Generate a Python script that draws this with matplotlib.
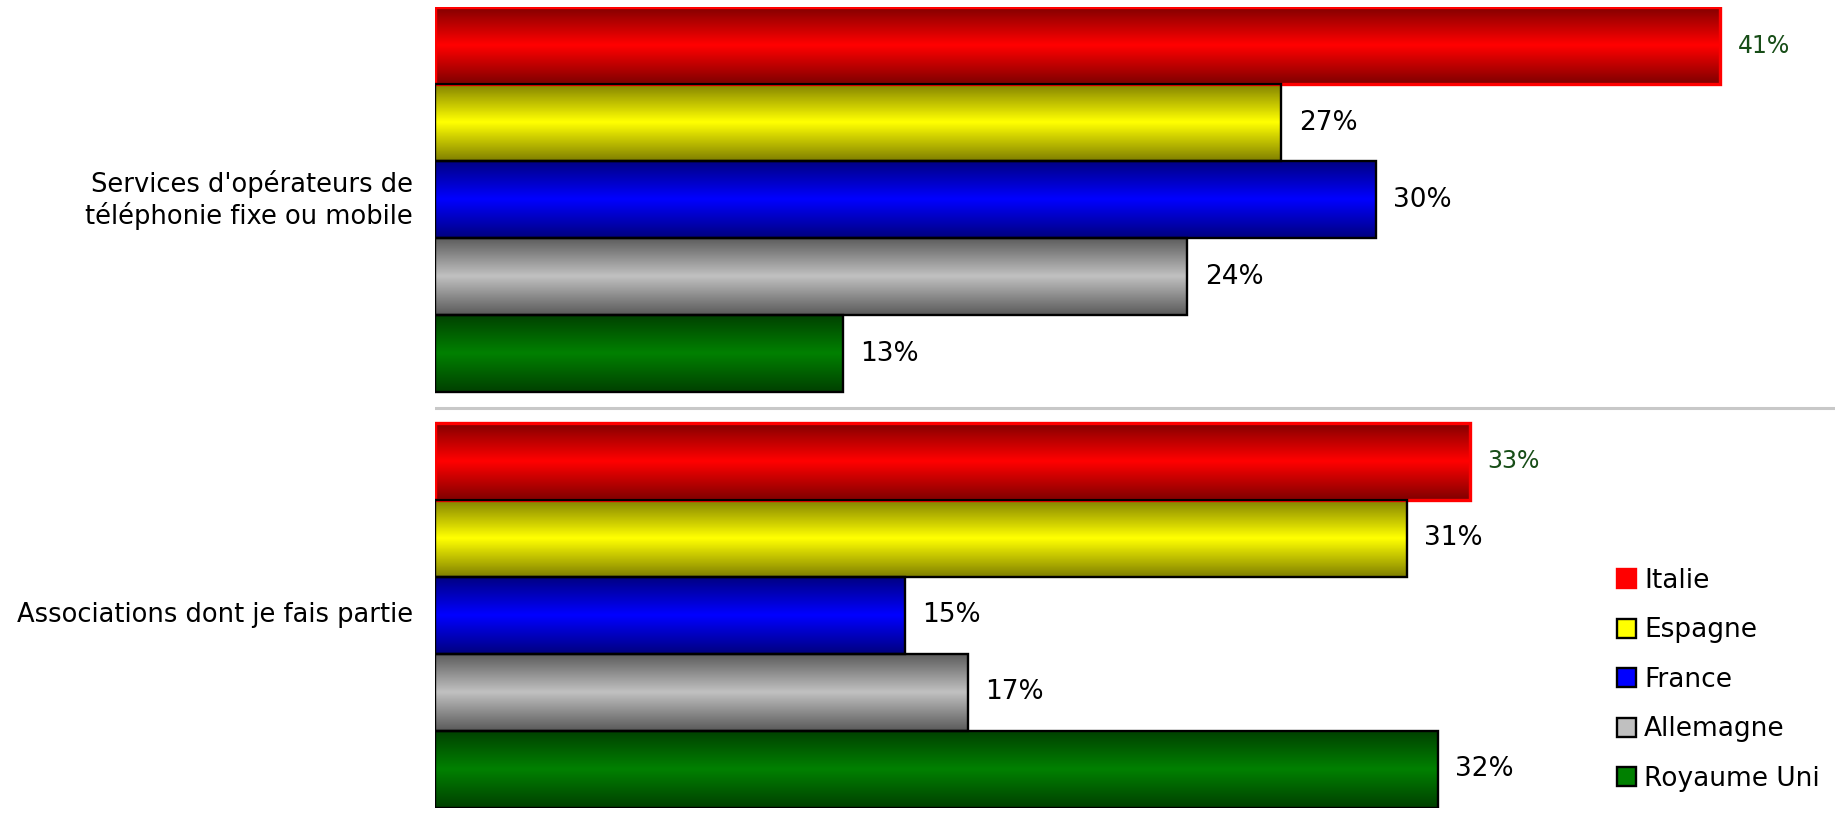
import numpy as np
import matplotlib
matplotlib.use("Agg")
import matplotlib.pyplot as plt
from matplotlib.colors import LinearSegmentedColormap
from matplotlib.patches import Patch

# Data
categories = ["Services d'opérateurs de\ntéléphonie fixe ou mobile",
              "Associations dont je fais partie"]
countries = ["Italie", "Espagne", "France", "Allemagne", "Royaume Uni"]
values = [
    [41, 27, 30, 24, 13],
    [33, 31, 15, 17, 32],
]

# dark edge colour / bright middle colour for each country
dark_colors = ["#800000", "#808000", "#000080", "#5a5a5a", "#004000"]
light_colors = ["#ff0000", "#ffff00", "#0000ff", "#c0c0c0", "#008000"]
edge_colors = ["#ff0000", "black", "black", "black", "black"]

gap = 0.39
bar_h = 1.0

fig = plt.figure(figsize=(18.35, 8.15), dpi=100)
ax = fig.add_axes([435 / 1835, 7 / 815, 1 - 435 / 1835, 801 / 815])

grad = np.concatenate([np.linspace(0, 1, 50), np.linspace(1, 0, 50)]).reshape(-1, 1)

for g, cat in enumerate(categories):
    start = g * (len(countries) + gap)
    for j, country in enumerate(countries):
        v = values[g][j]
        y0 = start + j
        cmap = LinearSegmentedColormap.from_list(country, [dark_colors[j], light_colors[j]])
        ax.imshow(grad, cmap=cmap, aspect="auto", extent=[0, v, y0 + bar_h, y0],
                  interpolation="bilinear", zorder=2)
        lw = 2.4 if j == 0 else 1.7
        ax.barh(y0 + bar_h / 2, v, height=bar_h, left=0, facecolor="none",
                edgecolor=edge_colors[j], linewidth=lw, zorder=3)
        if j == 0:
            ax.text(v + 0.55, y0 + bar_h / 2, f"{v}%", va="center", ha="left",
                    fontsize=17, color="#174d17")
        else:
            ax.text(v + 0.55, y0 + bar_h / 2, f"{v}%", va="center", ha="left",
                    fontsize=19, color="black")
    # category label
    ax.text(-0.7, start + len(countries) / 2, cat, ha="right", va="center",
            fontsize=18.5, color="black", linespacing=1.2)

# separator between groups
sep_y = len(countries) + gap / 2
ax.axhline(sep_y, color="#c8c8c8", linewidth=2.2, zorder=1)

ax.set_xlim(0, 1400 / 31.35)
ax.set_ylim(2 * len(countries) + gap, 0)
ax.axis("off")

handles = [Patch(facecolor=light_colors[i], edgecolor=edge_colors[i], linewidth=1.7)
           for i in range(len(countries))]
fig.legend(handles, countries, loc="upper left", bbox_to_anchor=(1617 / 1835, 1 - 568 / 815),
           frameon=False, fontsize=19, handlelength=0.72, handleheight=0.72,
           handletextpad=0.3, labelspacing=0.89, borderpad=0, borderaxespad=0)

fig.savefig("out.png", dpi=100)
